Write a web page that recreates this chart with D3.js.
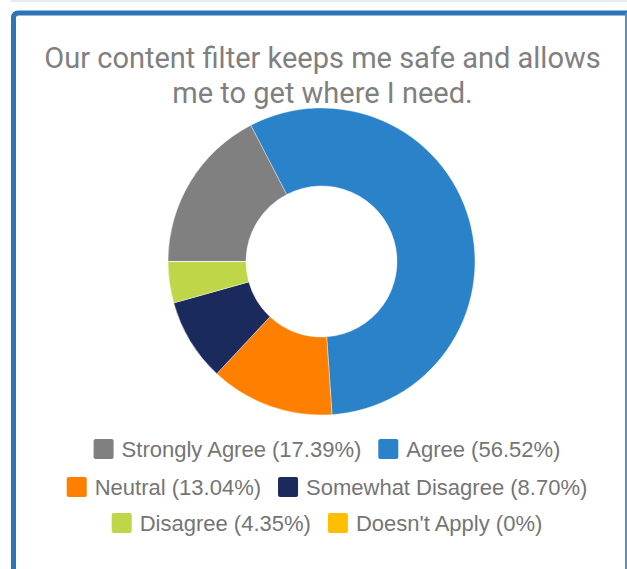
<!DOCTYPE html>
<html>
<head>
<meta charset="utf-8">
<script src="https://cdn.jsdelivr.net/npm/d3@7"></script>
<style>
  html, body { margin: 0; padding: 0; background: #fff; }
  svg { display: block; }
</style>
</head>
<body>
<svg id="chart" width="627" height="569"></svg>
<script>
const titleLines = ["Our content filter keeps me safe and allows", "me to get where I need."];
const categories = ["Strongly Agree", "Agree", "Neutral", "Somewhat Disagree", "Disagree", "Doesn't Apply"];
const percents = [17.39, 56.52, 13.04, 8.70, 4.35, 0];
const percentLabels = ["17.39%", "56.52%", "13.04%", "8.70%", "4.35%", "0%"];
const colors = ["#808080", "#2a82c9", "#ff7f00", "#1b2a5c", "#bfd648", "#ffbf00"];
const legendRows = [[0, 1], [2, 3], [4, 5]];

const svg = d3.select("#chart");
const W = 627, H = 569;

// faint top line
svg.append("rect").attr("x", 11).attr("y", 0).attr("width", W - 11).attr("height", 2).attr("fill", "#e4ebf2");

// frame
const bc = "#2e75b6";
svg.append("path")
  .attr("d", `M13.5,${H + 10} L13.5,18 Q13.5,13 18.5,13 L${W + 10},13`)
  .attr("fill", "none").attr("stroke", bc).attr("stroke-width", 5);
svg.append("rect").attr("x", 625).attr("y", 13).attr("width", 2).attr("height", H).attr("fill", "#5b8fc4");

// title
const title = svg.append("g");
titleLines.forEach((t, i) => {
  title.append("text")
    .attr("x", 322.5).attr("y", 68 + i * 35)
    .attr("text-anchor", "middle")
    .attr("font-family", "Roboto, 'Liberation Sans', sans-serif")
    .attr("font-size", 29)
    .attr("fill", "#808080")
    .text(t);
});

// donut
const cx = 321.5, cy = 261.5, R = 153.5, r = 75.5;
const pie = d3.pie().sort(null).value(d => d).startAngle(-Math.PI / 2).endAngle(1.5 * Math.PI);
const arc = d3.arc().innerRadius(r).outerRadius(R);
const g = svg.append("g").attr("transform", `translate(${cx},${cy})`);
g.selectAll("path").data(pie(percents)).join("path")
  .attr("d", arc)
  .attr("fill", (d, i) => colors[i])
  .attr("stroke", "#fff").attr("stroke-width", 0.4);

// legend
const rowY = [449, 487, 523];
const legendCenter = 327;
const sw = 20, gapSwatch = 8, gapItem = 17;
const lg = svg.append("g");
legendRows.forEach((row, ri) => {
  const items = row.map(i => {
    const grp = lg.append("g");
    grp.append("rect").attr("width", sw).attr("height", sw).attr("rx", 2)
      .attr("y", -sw / 2).attr("fill", colors[i]);
    const tx = grp.append("text").attr("x", sw + gapSwatch).attr("y", 8)
      .attr("font-family", "'Liberation Sans', Arial, sans-serif")
      .attr("font-size", 22).attr("fill", "#757575")
      .text(`${categories[i]} (${percentLabels[i]})`);
    const w = sw + gapSwatch + tx.node().getComputedTextLength();
    return { grp, w };
  });
  const total = d3.sum(items, d => d.w) + gapItem * (items.length - 1);
  let x = legendCenter - total / 2;
  items.forEach(it => {
    it.grp.attr("transform", `translate(${x},${rowY[ri]})`);
    x += it.w + gapItem;
  });
});
</script>
</body>
</html>
